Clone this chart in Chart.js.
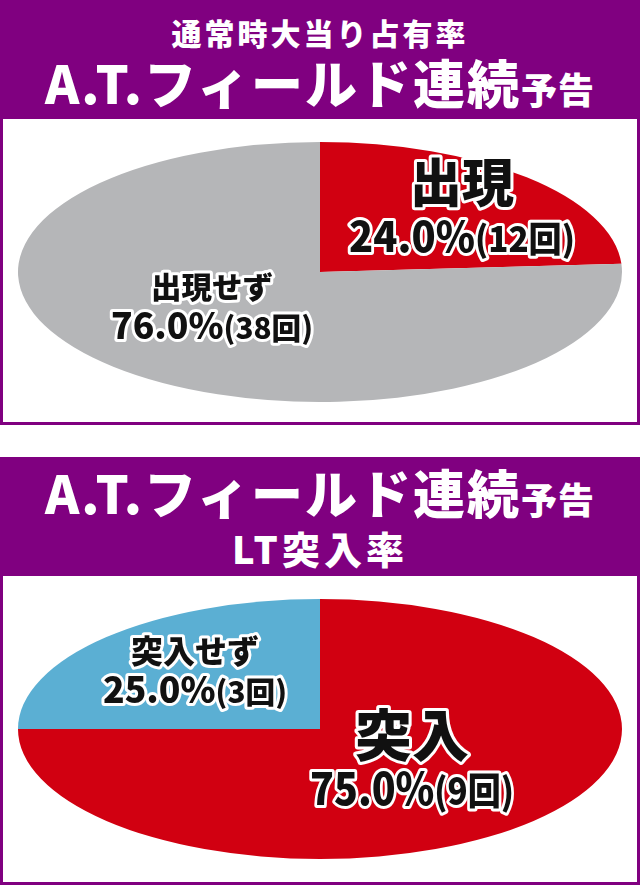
<!DOCTYPE html>
<html lang="ja">
<head>
<meta charset="utf-8">
<script src="https://cdn.jsdelivr.net/npm/chart.js@4.4.1/dist/chart.umd.min.js"></script>
<style>
  html, body { margin: 0; padding: 0; background: #fff; }
  body { width: 640px; height: 885px; position: relative; overflow: hidden; font-family: "Noto Sans CJK JP", sans-serif; }
  .head { position: absolute; left: 0; width: 640px; background: #800080; color: #fff; font-weight: 900; }
  .line { position: absolute; left: 0; width: 640px; text-align: center; white-space: nowrap; line-height: 1; }
  .big { font-size: 52px; letter-spacing: 2px; }
  .big small { font-size: 36px; letter-spacing: 1px; }
  .box { position: absolute; left: 0; width: 634px; border: 3px solid #800080; border-top: none; background: #fff; }
  canvas { position: absolute; left: 0; }
</style>
</head>
<body>

<div class="head" style="top:0;height:119px">
  <div class="line" style="top:17px;font-size:30px;letter-spacing:3px">通常時大当り占有率</div>
  <div class="line big" style="top:56px">A.T.フィールド連続<small>予告</small></div>
</div>
<div class="box" style="top:119px;height:303px"></div>
<canvas id="appear" width="640" height="306" style="top:119px"></canvas>

<div class="head" style="top:457px;height:119px">
  <div class="line big" style="top:9px">A.T.フィールド連続<small>予告</small></div>
  <div class="line" style="top:72px;font-size:38px;letter-spacing:4px">LT突入率</div>
</div>
<div class="box" style="top:576px;height:306px"></div>
<canvas id="entry" width="640" height="306" style="top:576px"></canvas>

<script>
// 通常時大当り占有率
const appearLabels = ['出現', '出現せず']
const appearPct = [24.0, 76.0]
const appearCount = [12, 38]

// LT突入率
const entryLabels = ['突入', '突入せず']
const entryPct = [75.0, 25.0]
const entryCount = [9, 3]

// stretch the round pie into an ellipse
const ellipsePlugin = {
  id: 'ellipse',
  beforeDatasetsDraw(chart, args, opts) {
    const arc = chart.getDatasetMeta(0).data[0]
    const ctx = chart.ctx
    ctx.save()
    ctx.translate(arc.x, arc.y)
    ctx.scale(opts.rx / arc.outerRadius, 1)
    ctx.translate(-arc.x, -arc.y)
  },
  afterDatasetsDraw(chart) {
    chart.ctx.restore()
  }
}

// draws parts side by side, squeezed to width w, centred on x
function outlined(ctx, parts, x, y, w) {
  ctx.save()
  ctx.textBaseline = 'alphabetic'
  ctx.textAlign = 'left'
  let total = 0
  parts.forEach(p => {
    ctx.font = '900 ' + p.size + 'px "Noto Sans CJK JP"'
    p.w = ctx.measureText(p.text).width
    total += p.w
  })
  const s = w / total
  ctx.translate(x - w / 2, y)
  ctx.scale(s, 1)
  ctx.lineJoin = 'round'
  ctx.lineWidth = 6
  ctx.strokeStyle = '#fff'
  let cx = 0
  parts.forEach(p => {
    ctx.font = '900 ' + p.size + 'px "Noto Sans CJK JP"'
    ctx.strokeText(p.text, cx, 0)
    cx += p.w
  })
  ctx.fillStyle = '#111'
  cx = 0
  parts.forEach(p => {
    ctx.font = '900 ' + p.size + 'px "Noto Sans CJK JP"'
    ctx.fillText(p.text, cx, 0)
    cx += p.w
  })
  ctx.restore()
}

// outlined labels
const sliceLabels = {
  id: 'sliceLabels',
  afterDraw(chart, args, opts) {
    const ctx = chart.ctx
    const ds = chart.data.datasets[0]
    opts.items.forEach(it => {
      const i = it.index
      outlined(ctx, [{ text: chart.data.labels[i], size: it.nameSize }], it.x, it.nameY, it.nameW)
      outlined(ctx, [
        { text: ds.pct[i].toFixed(1) + '%', size: it.numSize },
        { text: '(' + ds.count[i] + '回)', size: Math.round(it.numSize * 0.84) }
      ], it.x, it.numY, it.numW)
    })
  }
}

function pieOptions(items) {
  return {
    responsive: false,
    animation: false,
    events: [],
    layout: { padding: { top: 23, bottom: 23 } },
    plugins: {
      legend: { display: false },
      tooltip: { enabled: false },
      ellipse: { rx: 302 },
      sliceLabels: { items: items }
    }
  }
}

new Chart(document.getElementById('appear'), {
  type: 'pie',
  plugins: [ellipsePlugin, sliceLabels],
  data: {
    labels: appearLabels,
    datasets: [{
      data: appearPct,
      pct: appearPct,
      count: appearCount,
      backgroundColor: ['#d10011', '#b5b6b8'],
      borderWidth: 0,
      clip: false
    }]
  },
  options: pieOptions([
    { index: 0, x: 462, nameY: 83, nameSize: 52, nameW: 104, numY: 133, numSize: 42, numW: 226 },
    { index: 1, x: 212, nameY: 179, nameSize: 30, nameW: 122, numY: 220, numSize: 36, numW: 202 }
  ])
})

new Chart(document.getElementById('entry'), {
  type: 'pie',
  plugins: [ellipsePlugin, sliceLabels],
  data: {
    labels: entryLabels,
    datasets: [{
      data: entryPct,
      pct: entryPct,
      count: entryCount,
      backgroundColor: ['#d10011', '#5bafd3'],
      borderWidth: 0,
      clip: false
    }]
  },
  options: pieOptions([
    { index: 1, x: 195, nameY: 87, nameSize: 32, nameW: 128, numY: 127, numSize: 36, numW: 184 },
    { index: 0, x: 412, nameY: 180, nameSize: 56, nameW: 114, numY: 229, numSize: 44, numW: 204 }
  ])
})
</script>
</body>
</html>
